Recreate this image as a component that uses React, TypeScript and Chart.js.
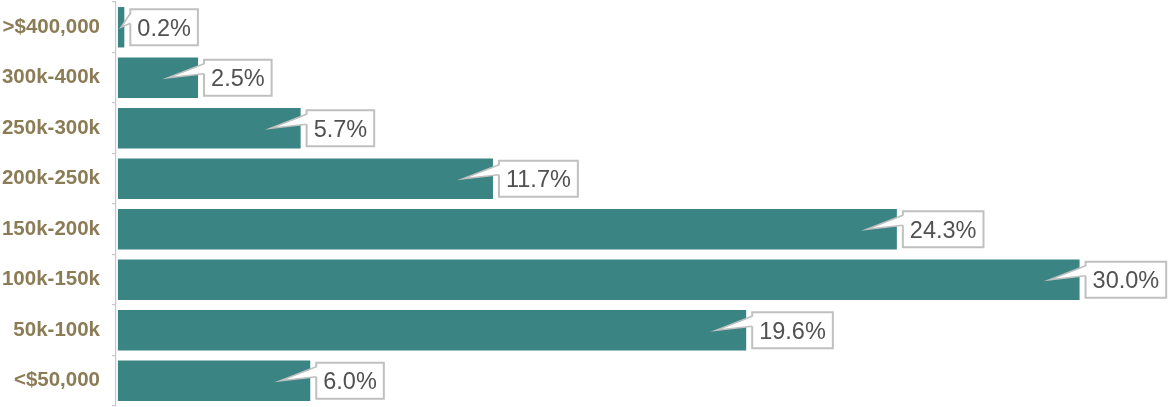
import React, { useEffect, useRef } from 'react';
import { Chart, registerables } from 'chart.js';

Chart.register(...registerables);

const categories = ['>$400,000', '300k-400k', '250k-300k', '200k-250k', '150k-200k', '100k-150k', '50k-100k', '<$50,000'];
const shares = [0.2, 2.5, 5.7, 11.7, 24.3, 30.0, 19.6, 6.0];
const shareLabels = ['0.2%', '2.5%', '5.7%', '11.7%', '24.3%', '30.0%', '19.6%', '6.0%'];

const BAR_COLOR = '#3a8484';
const LABEL_COLOR = '#8b7c56';
const CALLOUT_FONT_SIZE = 23.5;

const calloutPlugin = {
  id: 'callouts',
  afterDatasetsDraw(chart: any) {
    const ctx = chart.ctx as CanvasRenderingContext2D;
    const meta = chart.getDatasetMeta(0);
    ctx.save();
    ctx.font = `${CALLOUT_FONT_SIZE}px "Liberation Sans", Arial, sans-serif`;
    meta.data.forEach((bar: any, i: number) => {
      const { x, y, base } = bar.getProps(['x', 'y', 'base'], true);
      const text = shareLabels[i];
      const tw = ctx.measureText(text).width;
      const bw = tw + 14;
      const bh = 36;
      const bx = x + 6;
      const by = y - bh / 2;
      const tipX = x - Math.min(30, (x - base) * 0.5);
      const tipY = y;
      ctx.fillStyle = '#ffffff';
      ctx.strokeStyle = '#c0c0c0';
      ctx.lineWidth = 2;
      ctx.fillRect(bx, by, bw, bh);
      ctx.strokeRect(bx, by, bw, bh);
      const b1 = by + 4;
      const b2 = by + 14;
      ctx.beginPath();
      ctx.moveTo(bx + 1.5, b1);
      ctx.lineTo(tipX, tipY);
      ctx.lineTo(bx + 1.5, b2);
      ctx.closePath();
      ctx.fill();
      ctx.lineWidth = 1.6;
      ctx.beginPath();
      ctx.moveTo(bx, b1);
      ctx.lineTo(tipX, tipY);
      ctx.lineTo(bx, b2);
      ctx.stroke();
      ctx.fillStyle = '#515151';
      ctx.textBaseline = 'alphabetic';
      ctx.textAlign = 'left';
      ctx.fillText(text, bx + 7, y + CALLOUT_FONT_SIZE * 0.358);
    });
    ctx.restore();
  },
};

export default function App() {
  const canvasRef = useRef<HTMLCanvasElement | null>(null);

  useEffect(() => {
    document.body.style.margin = '0';
    const canvas = canvasRef.current;
    if (!canvas) return;
    const chart = new Chart(canvas, {
      type: 'bar',
      data: {
        labels: categories,
        datasets: [
          {
            data: shares,
            backgroundColor: BAR_COLOR,
            borderWidth: 0,
            barPercentage: 0.8,
            categoryPercentage: 1.0,
          },
        ],
      },
      options: {
        indexAxis: 'y',
        animation: false,
        responsive: true,
        maintainAspectRatio: false,
        layout: { padding: { top: 2, bottom: 1, left: 0, right: 0 } },
        plugins: {
          legend: { display: false },
          tooltip: { enabled: false },
        },
        scales: {
          x: {
            type: 'linear',
            display: false,
            min: -0.06,
            max: 32.79,
          },
          y: {
            grid: {
              display: true,
              drawOnChartArea: false,
              drawTicks: true,
              tickLength: 4,
              color: '#c8c8c8',
              lineWidth: 1.2,
              offset: true,
            },
            border: { display: true, color: '#c8c8c8', width: 1.2 },
            ticks: {
              color: LABEL_COLOR,
              padding: 12,
              font: { family: '"Liberation Sans", Arial, sans-serif', size: 20.5, weight: 'bold' },
            },
            afterFit(scale: any) {
              scale.width = 116;
              scale.paddingTop = 0;
              scale.paddingBottom = 0;
            },
          },
        },
      },
      plugins: [calloutPlugin],
    } as any);
    return () => chart.destroy();
  }, []);

  return (
    <div style={{ width: 1169, height: 407, position: 'relative' }}>
      <canvas ref={canvasRef} />
    </div>
  );
}
